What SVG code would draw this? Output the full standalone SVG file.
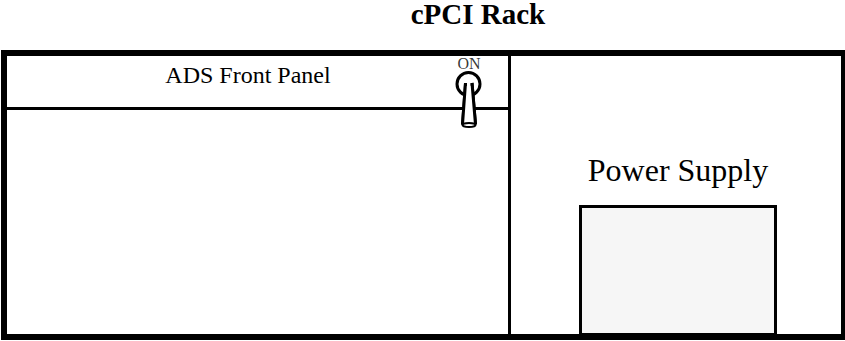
<svg xmlns="http://www.w3.org/2000/svg" width="845" height="341" viewBox="0 0 845 341">
<style>
.l{fill:none;stroke:#000;stroke-width:3}
.t{font-family:"Liberation Serif","Times New Roman",serif;fill:#000;text-anchor:middle}
</style>
<rect width="845" height="341" fill="#fff"/>
<text class="t" x="478" y="24" font-size="29" font-weight="bold">cPCI Rack</text>
<g id="rack"><rect x="4" y="53" width="840" height="284" fill="none" stroke="#000" stroke-width="6"/></g>
<g id="connectors">
<line class="l" x1="509.5" y1="56" x2="509.5" y2="334"/>
<line class="l" x1="7" y1="108.5" x2="509" y2="108.5"/>
</g>
<g id="front-panel"><text class="t" x="248" y="83" font-size="24">ADS Front Panel</text></g>
<g id="switch">
<text class="t" x="469" y="69" font-size="16" fill-opacity="0.8">ON</text>
<circle class="l" cx="468.5" cy="84" r="11.5"/>
<path class="l" d="M465.5 83 L462.500 124.500 M472 83 L475.500 124.500" />
<path d="M465.5 86 L462.500 124.500 L475.500 124.500 L472 86 Z" fill="#fff"/>
<path class="l" d="M465.500 83 L462.500 124.500 M472 83 L475.500 124.500"/>
<ellipse cx="469" cy="125" rx="6.500" ry="2" fill="#fff" stroke="#000" stroke-width="2"/>
</g>
<g id="power-supply">
<text class="t" x="678" y="181" font-size="32">Power Supply</text>
<rect x="580.500" y="206.500" width="195" height="128" fill="#f6f6f6" stroke="#000" stroke-width="3"/>
</g>
</svg>
